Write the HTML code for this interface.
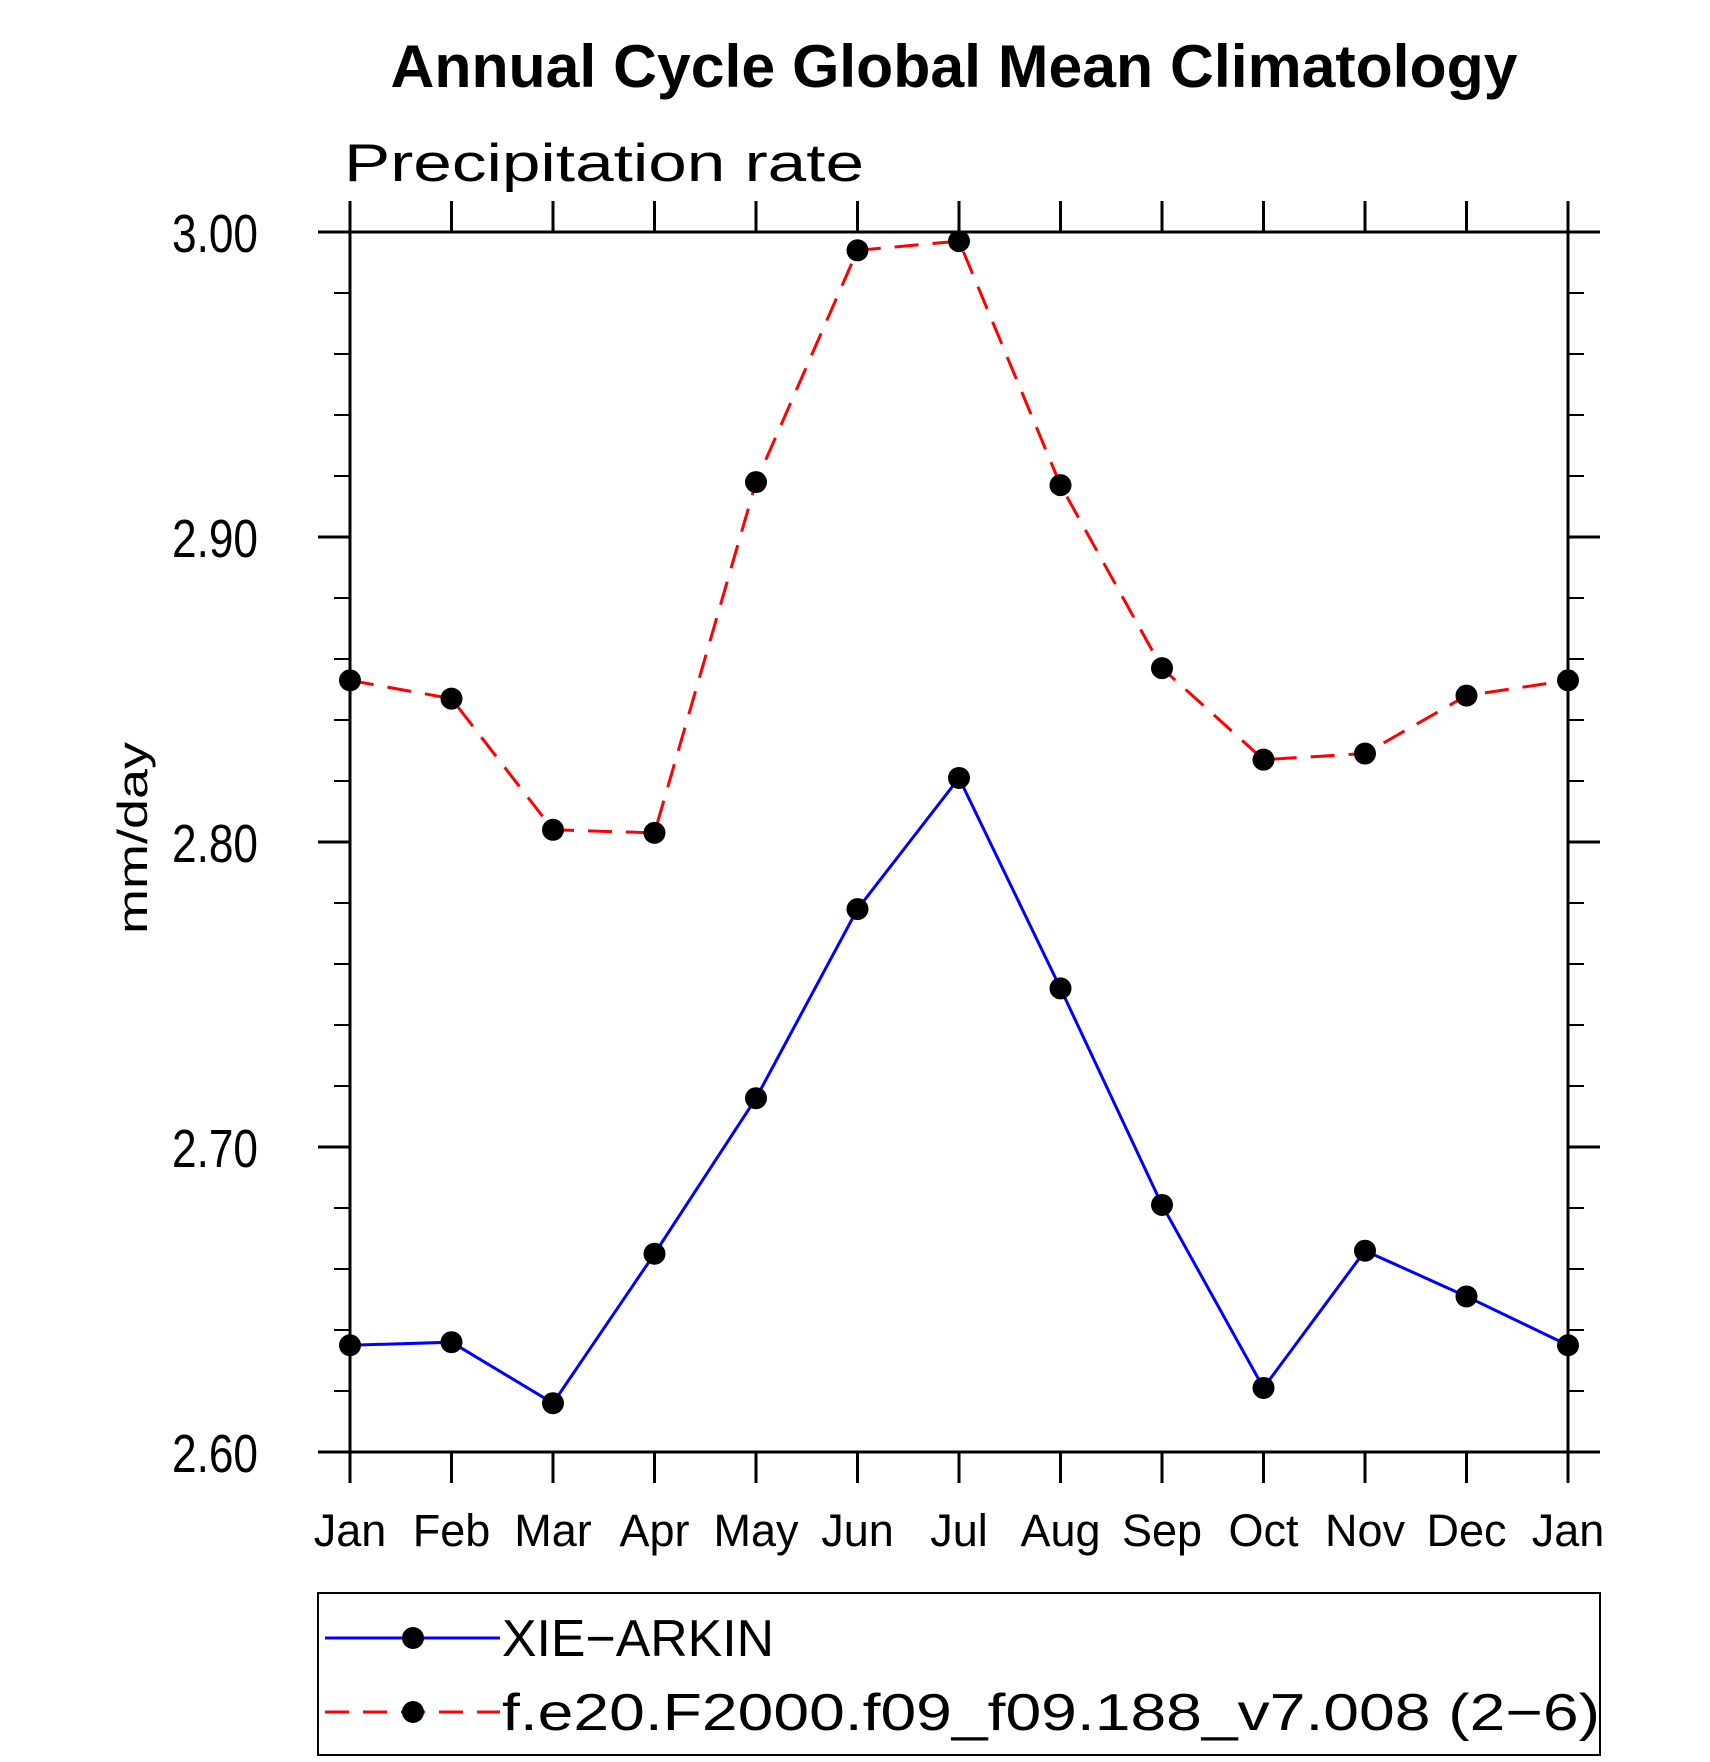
<!DOCTYPE html>
<html><head><meta charset="utf-8">
<style>
html,body{margin:0;padding:0;background:#fff;}
svg{display:block;}
text{font-family:"Liberation Sans",sans-serif;fill:#000;}
</style></head>
<body>
<svg id="chart" width="1710" height="1762" viewBox="0 0 1710 1762">
<text x="954" y="87" text-anchor="middle" font-size="60" font-weight="bold" textLength="1127" lengthAdjust="spacingAndGlyphs">Annual Cycle Global Mean Climatology</text>
<text x="344" y="181" font-size="53" font-weight="300" textLength="520" lengthAdjust="spacingAndGlyphs">Precipitation rate</text>
<text transform="translate(147,838) rotate(-90)" text-anchor="middle" font-size="42" textLength="192" lengthAdjust="spacingAndGlyphs">mm/day</text>
<g id="axes"></g>
<g id="series"></g>
<g id="legend">
<rect x="318" y="1593" width="1282" height="162" fill="none" stroke="#000" stroke-width="2"/>
<g>
<line x1="325" y1="1638" x2="500" y2="1638" stroke="#0000ff" stroke-width="3"/>
<circle cx="413" cy="1638" r="11" fill="#000"/>
<text x="502" y="1656" font-size="52" textLength="272" lengthAdjust="spacingAndGlyphs">XIE−ARKIN</text>
</g>
<g>
<line x1="325" y1="1712" x2="500" y2="1712" stroke="#ff0000" stroke-width="3" stroke-dasharray="24,14"/>
<circle cx="413" cy="1712" r="11" fill="#000"/>
<text x="502" y="1730" font-size="52" textLength="1098" lengthAdjust="spacingAndGlyphs">f.e20.F2000.f09_f09.188_v7.008 (2−6)</text>
</g>
</g>
</svg>
<script>
const months = ["Jan","Feb","Mar","Apr","May","Jun","Jul","Aug","Sep","Oct","Nov","Dec","Jan"];
const xieArkin = [2.635,2.636,2.616,2.665,2.716,2.778,2.821,2.752,2.681,2.621,2.666,2.651,2.635];
const model = [2.853,2.847,2.804,2.803,2.918,2.994,2.997,2.917,2.857,2.827,2.829,2.848,2.853];
const yTicks = [2.60,2.70,2.80,2.90,3.00];
const yTickLabels = ["2.60","2.70","2.80","2.90","3.00"];
const yMin = 2.6, yMax = 3.0;

const NS = "http://www.w3.org/2000/svg";
const L = 350, R = 1568, T = 232, B = 1452;
function xPos(i){ return L + (R - L) * i / (months.length - 1); }
function yPos(v){ return B - (v - yMin) / (yMax - yMin) * (B - T); }
function mk(tag, attrs, parent){
  const e = document.createElementNS(NS, tag);
  for (const k in attrs) e.setAttribute(k, attrs[k]);
  parent.appendChild(e);
  return e;
}
const axes = document.getElementById('axes');
const frame = mk('rect', {x:L, y:T, width:R-L, height:B-T, fill:'none', stroke:'#000', 'stroke-width':3}, axes);



months.forEach((m, i) => {
  const x = xPos(i);
  const t1 = mk('line', {x1:x, y1:B, x2:x, y2:B+31, stroke:'#000', 'stroke-width':3}, axes);
  
  
  const t2 = mk('line', {x1:x, y1:T, x2:x, y2:T-31, stroke:'#000', 'stroke-width':3}, axes);
  
  
  const lab = mk('text', {x:x, y:1546, 'text-anchor':'middle', 'font-size':45}, axes);
  lab.textContent = m;
  
  
});
for (let k = 0; k <= 20; k++) {
  const v = yMin + k * 0.02;
  const y = yPos(v);
  const major = k % 5 === 0;
  const len = major ? 32 : 16;
  const a = mk('line', {x1:L-len, y1:y, x2:L, y2:y, stroke:'#000', 'stroke-width':major?3:2}, axes);
  
  
  const b = mk('line', {x1:R, y1:y, x2:R+len, y2:y, stroke:'#000', 'stroke-width':major?3:2}, axes);
  
  
}
yTicks.forEach((v, i) => {
  const lab = mk('text', {x:172, y:yPos(v)+20, 'font-size':54, textLength:86, lengthAdjust:'spacingAndGlyphs'}, axes);
  lab.textContent = yTickLabels[i];
  
  
});

const series = document.getElementById('series');
function drawSeries(vals, color, dash, name){
  const pts = vals.map((v, i) => xPos(i) + ',' + yPos(v)).join(' ');
  const pl = mk('polyline', {points:pts, fill:'none', stroke:color, 'stroke-width':3, 'stroke-dasharray':dash}, series);
  
  
  vals.forEach((v, i) => {
    const c = mk('circle', {cx:xPos(i), cy:yPos(v), r:11, fill:'#000'}, series);
    
    
  });
}
drawSeries(model, '#ff0000', '24,14', 'model');
drawSeries(xieArkin, '#0000ff', 'none', 'xie-arkin');
</script>
</body></html>
